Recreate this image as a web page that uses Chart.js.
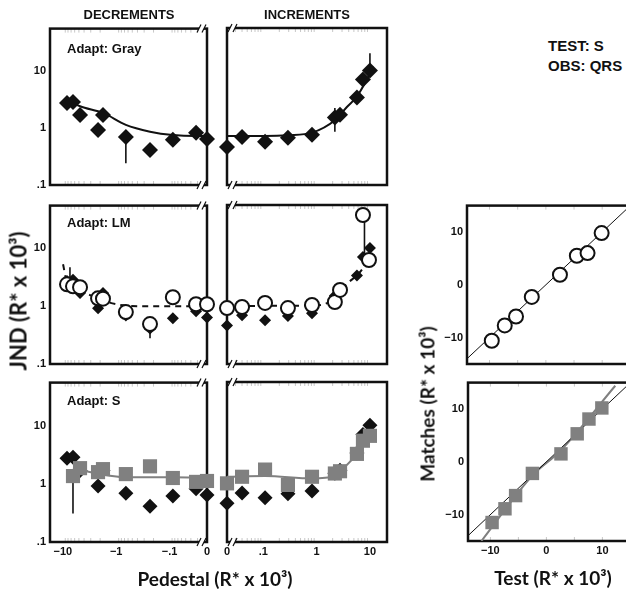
<!DOCTYPE html>
<html>
<head>
<meta charset="utf-8">
<script src="https://cdn.jsdelivr.net/npm/chart.js@4.4.1/dist/chart.umd.min.js"></script>
<style>
  html, body { margin: 0; padding: 0; background: #fff; }
  body { position: relative; width: 626px; height: 589px; overflow: hidden; font-family: "Liberation Sans", Arial, sans-serif; color: #111; }
  canvas { position: absolute; }
  .t { position: absolute; font-weight: bold; white-space: nowrap; z-index: 5; }
  .head { font-size: 13px; transform: translate(-50%, -50%); }
  .adapt { font-size: 13px; transform: translateY(-50%); }
  .info { font-size: 15px; transform: translateY(-50%); }
  .axt { font-family: Lato, "Open Sans", sans-serif; font-weight: 700; font-size: 19px; transform: translate(-50%, -50%); }
  .rot { transform: translate(-50%, -50%) rotate(-90deg); }
</style>
</head>
<body>
<div class="t head" style="left:129px;top:14px">DECREMENTS</div>
<div class="t head" style="left:307px;top:14px">INCREMENTS</div>
<div class="t info" style="left:548px;top:45px">TEST: S</div>
<div class="t info" style="left:548px;top:65px">OBS: QRS</div>
<div class="t adapt" style="left:67px;top:48px">Adapt: Gray</div>
<div class="t adapt" style="left:67px;top:222px">Adapt: LM</div>
<div class="t adapt" style="left:67px;top:400px">Adapt: S</div>
<div class="t axt rot" style="left:18px;top:301px;font-size:22px">JND (R* x 10³)</div>
<div class="t axt" style="left:215px;top:578px">Pedestal (R* x 10³)</div>
<div class="t axt rot" style="left:427px;top:404px">Matches (R* x 10³)</div>
<div class="t axt" style="left:553px;top:577px">Test (R* x 10³)</div>

<script>
// pedestals (R* x 10^3)
const decPed = [-8.35, -6.45, -4.76, -2.19, -1.77, -0.66, -0.233, -0.087, -0.032, 0];
const incPed = [0, 0.04, 0.108, 0.29, 0.82, 2.2, 2.75, 5.7, 7.4, 10];

// Adapt: Gray (diamonds) - also shown again in the LM and S rows
const grayDec = [2.74, 2.86, 1.69, 0.92, 1.69, 0.69, 0.41, 0.62, 0.82, 0.64];
const grayInc = [0.46, 0.69, 0.57, 0.67, 0.75, 1.5, 1.69, 3.36, 6.96, 10];
const grayFitDecPed = [-8.35, -4.76, -1.77, -0.66, -0.233, -0.087, -0.032, 0];
const grayFitDec = [3.1, 2.4, 1.83, 1.13, 0.86, 0.75, 0.72, 0.72];
const grayFitIncPed = [0, 0.108, 0.29, 0.82, 2.2, 3.7, 5.7, 8.8, 11.5];
const grayFitInc = [0.72, 0.72, 0.74, 0.82, 1.35, 2.3, 3.5, 7, 11.7];
const grayDecErr = [[-0.66, 0.24, 0.69]];
const grayIncErr = [[2.2, 0.85, 2.2], [10, 10, 20]];

// Adapt: LM (open circles)
const lmDec = [2.39, 2.21, 2.13, 1.37, 1.35, 0.79, 0.49, 1.43, 1.08, 1.08];
const lmIncPed = [0, 0.04, 0.108, 0.29, 0.82, 2.2, 2.75, 7.4, 9.6];
const lmInc = [0.92, 0.96, 1.13, 0.92, 1.04, 1.17, 1.89, 37, 6.2];
const lmFitDecPed = [-9.9, -8.35, -6.45, -2.19, -1, -0.3, 0];
const lmFitDec = [5.3, 2.6, 2.2, 1.35, 1.08, 1.0, 1.0];
const lmFitIncPed = [0, 0.82, 1.57, 3.7, 7.4, 9.1];
const lmFitInc = [1.0, 1.02, 1.12, 2.4, 4.5, 6.7];
const lmDecErr = [[-7.35, 2.0, 4.7], [-0.233, 0.28, 0.49]];
const lmIncErr = [[7.9, 7, 37]];

// Adapt: S (gray squares)
const sDecPed = [-6.45, -4.76, -2.19, -1.77, -0.66, -0.233, -0.087, -0.032, 0];
const sDec = [1.36, 1.86, 1.59, 1.79, 1.47, 2.0, 1.26, 1.08, 1.12];
const sInc = [1.01, 1.31, 1.74, 0.95, 1.31, 1.49, 1.63, 3.23, 5.43, 6.58];
const sFitDecPed = [-6.45, -4.76, -2.19, -0.66, -0.087, 0];
const sFitDec = [1.9, 1.75, 1.5, 1.3, 1.3, 1.28];
const sFitIncPed = [0, 0.108, 0.82, 2.2, 2.75, 5.7, 10];
const sFitInc = [1.31, 1.35, 1.23, 1.32, 1.6, 3.2, 6.4];
const sDecErr = [[-6.45, 0.31, 1.36]];

// matches vs test
const testLM = [-9.6, -7.3, -5.3, -2.5, 2.5, 5.5, 7.4, 9.9];
const matchLM = [-10.6, -7.7, -6.0, -2.3, 1.9, 5.5, 6.0, 9.8];
const testS = [-9.7, -7.4, -5.5, -2.5, 2.6, 5.5, 7.6, 9.9];
const matchS = [-11.5, -8.9, -6.4, -2.2, 1.5, 5.3, 8.1, 10.2];
const unity = [-15, 16];
const sLineTest = [-11.6, -2.5, 2.6, 12.3];
const sLineMatch = [-15, -2.6, 2.2, 14.4];

// ticks
const decTicks = [-10, -1, -0.1, 0];
const decTickText = ['−10', '−1', '−.1', '0'];
const incTicks = [0, 0.1, 1, 10];
const incTickText = ['0', '.1', '1', '10'];
const jndTicks = [0.1, 1, 10];
const jndTickText = ['.1', '1', '10'];
const matchTicks = [-10, 0, 10];
const minorMult = [2, 3, 4, 5, 6, 7, 8, 9];
const minorDecades = [0.01, 0.1, 1, 10];
const matchMinor = [-10, -5, 0, 5, 10, 15];

// the pedestal axes are log |pedestal|, with 0 put at the break
const DEC_EDGE = -1.70, DEC_MAX = 1.24;
const INC_EDGE = -1.68, INC_MAX = 1.32;
const decU = p => p === 0 ? DEC_EDGE : Math.log10(-p);
const incU = p => p === 0 ? INC_EDGE : Math.log10(p);
const pts = (xs, ys, f) => xs.map((v, i) => ({x: f ? f(v) : v, y: ys[i]}));
const errs = (list, f) => list.map(e => [f(e[0]), e[1], e[2]]);
const pedMinor = minorDecades.flatMap(d => minorMult.map(m => Math.log10(d * m)));

const BLACK = '#111', GRAY = '#808080';
const AX_W = 40, AX_H = 25, PAD = 10;
const tickFont = {family: 'Liberation Sans', size: 11, weight: 'bold'};

function frame(side, minor) {
  return {
    id: 'frame',
    beforeDatasetsDraw(chart) {
      const {ctx, chartArea: a, scales: {x}} = chart;
      ctx.save();
      // faint inner ticks along top and bottom
      ctx.strokeStyle = '#c8c8c8';
      ctx.lineWidth = 1;
      ctx.beginPath();
      minor.forEach(v => {
        const px = x.getPixelForValue(v);
        if (px < a.left + 3 || px > a.right - 3) return;
        ctx.moveTo(px, a.top); ctx.lineTo(px, a.top + 4);
        ctx.moveTo(px, a.bottom); ctx.lineTo(px, a.bottom - 4);
      });
      ctx.stroke();
      ctx.strokeStyle = BLACK;
      ctx.lineWidth = 2.5;
      ctx.strokeRect(a.left, a.top, a.right - a.left, a.bottom - a.top);
      if (side) {
        const gx = side === 'right' ? a.right - 8 : a.left + 3;
        [a.top, a.bottom].forEach(y => {
          ctx.fillStyle = '#fff';
          ctx.fillRect(gx, y - 2, 5, 4);
          ctx.lineWidth = 1.2;
          ctx.beginPath();
          [0, 5].forEach(dx => { ctx.moveTo(gx + dx - 2, y + 4); ctx.lineTo(gx + dx + 2, y - 4); });
          ctx.stroke();
        });
      }
      ctx.restore();
    }
  };
}

function errBars(list) {
  return {
    id: 'err',
    beforeDatasetsDraw(chart) {
      const {ctx, scales: {x, y}} = chart;
      ctx.save();
      ctx.strokeStyle = BLACK;
      ctx.lineWidth = 1.6;
      list.forEach(e => {
        const px = x.getPixelForValue(e[0]);
        ctx.beginPath();
        ctx.moveTo(px, y.getPixelForValue(e[1]));
        ctx.lineTo(px, y.getPixelForValue(e[2]));
        ctx.stroke();
      });
      ctx.restore();
    }
  };
}

const diamonds = (data, r) => ({data, showLine: false, pointStyle: 'rectRot', pointRadius: r, pointBackgroundColor: BLACK, pointBorderWidth: 0, clip: false});
const circles = data => ({data, showLine: false, pointStyle: 'circle', pointRadius: 7, pointBackgroundColor: '#fff', pointBorderColor: BLACK, pointBorderWidth: 2, clip: false});
const squares = (data, r) => ({data, showLine: false, pointStyle: 'rect', pointRadius: r, pointBackgroundColor: GRAY, pointBorderWidth: 0, clip: false});
const fit = (data, color, width, dash) => ({data, pointRadius: 0, borderColor: color, borderWidth: width, borderDash: dash || [], cubicInterpolationMode: 'monotone', clip: false});

function pedAxis(dec, labels) {
  const vals = dec ? decTicks.map(decU) : incTicks.map(incU);
  const text = dec ? decTickText : incTickText;
  return {
    type: 'linear', reverse: dec,
    min: dec ? DEC_EDGE : INC_EDGE, max: dec ? DEC_MAX : INC_MAX,
    grid: {display: false, drawTicks: false}, border: {display: false},
    afterBuildTicks: s => { s.ticks = vals.map(v => ({value: v})); },
    afterFit: s => { s.height = AX_H; },
    ticks: {display: labels, font: tickFont, color: BLACK, padding: 3, autoSkip: false, maxRotation: 0,
      callback: (v, i) => text[i]}
  };
}

function jndAxis(labels) {
  return {
    type: 'logarithmic', min: 0.1, max: 55,
    grid: {display: false, drawTicks: false}, border: {display: false},
    afterBuildTicks: s => { s.ticks = jndTicks.map(v => ({value: v})); },
    afterFit: s => { s.width = AX_W; },
    ticks: {display: labels, font: tickFont, color: BLACK, padding: 4, autoSkip: false,
      callback: (v, i) => jndTickText[i]}
  };
}

function matchAxis(isX, labels) {
  return {
    type: 'linear', min: isX ? -14 : -15, max: isX ? 16 : 15,
    grid: {display: false, drawTicks: false}, border: {display: false},
    afterBuildTicks: s => { s.ticks = matchTicks.map(v => ({value: v})); },
    afterFit: s => { if (isX) s.height = AX_H; else s.width = AX_W; },
    ticks: {display: labels, font: tickFont, color: BLACK, padding: isX ? 3 : 4, autoSkip: false, maxRotation: 0,
      callback: v => v === 0 ? '0' : (v < 0 ? '−' : '') + Math.abs(v)}
  };
}

function makeChart(l, r, t, b, datasets, x, y, side, errList, minor) {
  const cv = document.createElement('canvas');
  const w = r - l + AX_W + PAD, h = b - t + PAD + AX_H;
  cv.width = w; cv.height = h;
  Object.assign(cv.style, {left: (l - AX_W) + 'px', top: (t - PAD) + 'px', width: w + 'px', height: h + 'px'});
  document.body.appendChild(cv);
  return new Chart(cv, {
    type: 'line',
    data: {datasets},
    options: {
      responsive: false, animation: false, devicePixelRatio: 1,
      layout: {padding: {top: PAD, right: PAD, left: 0, bottom: 0}, autoPadding: false},
      plugins: {legend: {display: false}, tooltip: {enabled: false}},
      scales: {x, y}
    },
    plugins: [frame(side, minor || pedMinor), errBars(errList || [])]
  });
}

const ROWS = [[28, 185], [205, 364], [382, 542]];
const DEC = [50, 207], INC = [227, 387], RIGHT = [467, 636];

// row 1: adapt gray
makeChart(DEC[0], DEC[1], ROWS[0][0], ROWS[0][1], [
  diamonds(pts(decPed, grayDec, decU), 8),
  fit(pts(grayFitDecPed, grayFitDec, decU), BLACK, 2)
], pedAxis(true, false), jndAxis(true), 'right', errs(grayDecErr, decU));
makeChart(INC[0], INC[1], ROWS[0][0], ROWS[0][1], [
  diamonds(pts(incPed, grayInc, incU), 8),
  fit(pts(grayFitIncPed, grayFitInc, incU), BLACK, 2)
], pedAxis(false, false), jndAxis(false), 'left', errs(grayIncErr, incU));

// row 2: adapt LM
makeChart(DEC[0], DEC[1], ROWS[1][0], ROWS[1][1], [
  circles(pts(decPed, lmDec, decU)),
  diamonds(pts(decPed, grayDec, decU), 6),
  fit(pts(lmFitDecPed, lmFitDec, decU), BLACK, 2, [6, 5])
], pedAxis(true, false), jndAxis(true), 'right', errs(lmDecErr, decU));
makeChart(INC[0], INC[1], ROWS[1][0], ROWS[1][1], [
  circles(pts(lmIncPed, lmInc, incU)),
  diamonds(pts(incPed, grayInc, incU), 6),
  fit(pts(lmFitIncPed, lmFitInc, incU), BLACK, 2, [6, 5])
], pedAxis(false, false), jndAxis(false), 'left', errs(lmIncErr, incU));

// row 3: adapt S
makeChart(DEC[0], DEC[1], ROWS[2][0], ROWS[2][1], [
  squares(pts(sDecPed, sDec, decU), 10),
  diamonds(pts(decPed, grayDec, decU), 7.5),
  fit(pts(sFitDecPed, sFitDec, decU), GRAY, 2)
], pedAxis(true, true), jndAxis(true), 'right', errs(sDecErr, decU));
makeChart(INC[0], INC[1], ROWS[2][0], ROWS[2][1], [
  squares(pts(incPed, sInc, incU), 10),
  diamonds(pts(incPed, grayInc, incU), 7.5),
  fit(pts(sFitIncPed, sFitInc, incU), GRAY, 2)
], pedAxis(false, true), jndAxis(false), 'left', []);

// matches vs test
makeChart(RIGHT[0], RIGHT[1], ROWS[1][0], ROWS[1][1], [
  circles(pts(testLM, matchLM)),
  Object.assign(fit(pts(unity, unity), BLACK, 1), {clip: undefined})
], matchAxis(true, false), matchAxis(false, true), null, [], matchMinor);
makeChart(RIGHT[0] + 1, RIGHT[1], ROWS[2][0], ROWS[2][1] - 1, [
  squares(pts(testS, matchS), 9.5),
  Object.assign(fit(pts(unity, unity), BLACK, 1), {clip: undefined}),
  Object.assign(fit(pts(sLineTest, sLineMatch), GRAY, 2), {clip: undefined})
], matchAxis(true, true), matchAxis(false, true), null, [], matchMinor);
</script>
</body>
</html>
